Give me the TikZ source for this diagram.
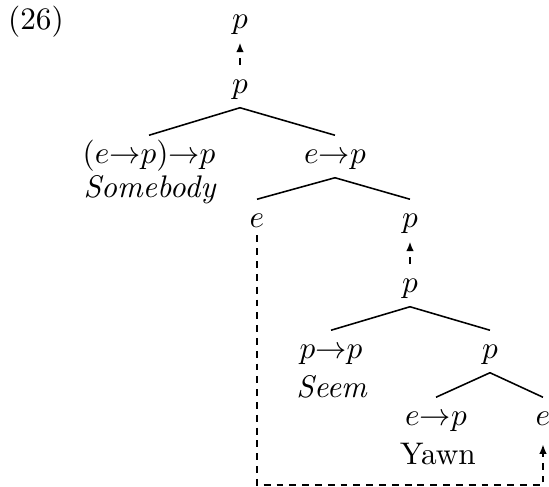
\documentclass[tikz,border=0pt]{standalone}
\usetikzlibrary{arrows.meta}
\begin{document}
\begin{tikzpicture}[x=0.32pt,y=-0.32pt,
  tn/.style={anchor=base,inner sep=2pt,text height=7pt,text depth=2.2pt},
  lab/.style={anchor=base,inner sep=0pt},
  edge/.style={line width=0.5pt},
  dsh/.style={line width=0.5pt,dash pattern=on 2.2pt off 1.9pt},
  dar/.style={dsh,-{Latex[length=3pt,width=2.4pt]}}]
\useasboundingbox (0,0) rectangle (549,487);
\node[lab] (num) at (36,30) {(26)};
\node[tn] (p1) at (240,29) {$p$};
\node[tn] (p2) at (240,94) {$p$};
\node[tn] (sb) at (149,164) {$(e{\rightarrow}p){\rightarrow}p$};
\node[lab] (sbw) at (150,198) {\textit{Somebody}};
\node[tn] (ep) at (335,164) {$e{\rightarrow}p$};
\node[tn] (eL) at (257,228) {$e$};
\node[tn] (pR) at (410,228) {$p$};
\node[tn] (p3) at (410,293) {$p$};
\node[tn] (pp) at (331,359) {$p{\rightarrow}p$};
\node[lab] (sw) at (332,398) {\textit{Seem}};
\node[tn] (p4) at (490,359) {$p$};
\node[tn] (yp) at (436,426) {$e{\rightarrow}p$};
\node[lab] (yw) at (438,465) {Yawn};
\node[tn] (eR) at (543,426) {$e$};
\coordinate (bot) at (257,485);
\draw[edge] (p2.south) -- (sb.north);
\draw[edge] (p2.south) -- (ep.north);
\draw[edge] (ep.south) -- (eL.north);
\draw[edge] (ep.south) -- (pR.north);
\draw[edge] (p3.south) -- (pp.north);
\draw[edge] (p3.south) -- (p4.north);
\draw[edge] (p4.south) -- (yp.north);
\draw[edge] (p4.south) -- (eR.north);
\draw[dar] (p2.north) -- (p1.south);
\draw[dar] (p3.north) -- (pR.south);
\draw[dar,shorten <=-2pt,shorten >=1.5pt] (eL.south) -- (bot) -| (eR.south);
\end{tikzpicture}
\end{document}
